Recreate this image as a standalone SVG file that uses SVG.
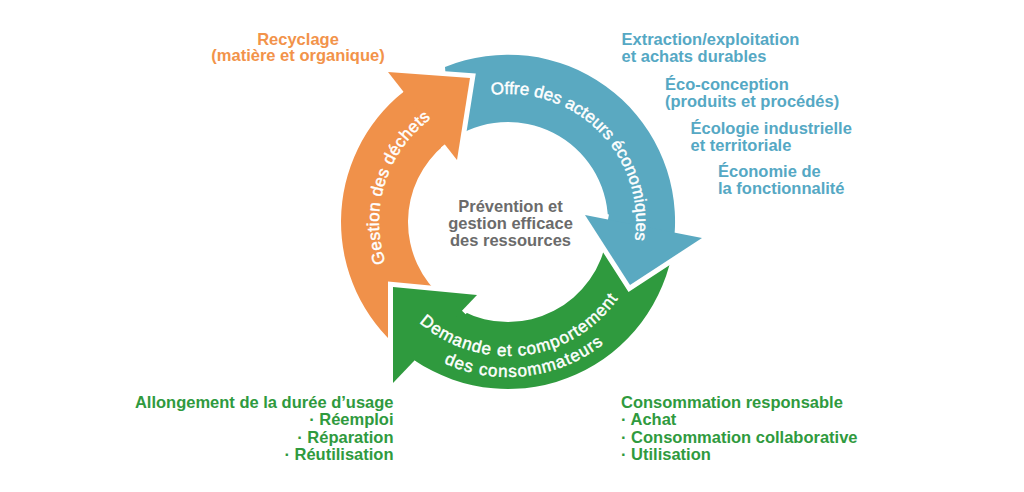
<svg xmlns="http://www.w3.org/2000/svg" xmlns:xlink="http://www.w3.org/1999/xlink" width="1024" height="492" viewBox="0 0 1024 492">
<defs>
<style>
.ringtxt{font-family:"Liberation Sans",Arial,sans-serif;font-size:17px;fill:#ffffff;stroke:#ffffff;stroke-width:0.45px}
.lbl{font-family:"Liberation Sans",Arial,sans-serif;font-size:16.5px;font-weight:bold}
.blue{fill:#55a8c4}
.orange{fill:#f2934a}
.green{fill:#2f9a3e}
.center{font-family:"Liberation Sans",Arial,sans-serif;font-size:16.5px;font-weight:bold;fill:#6b6b6b}
.border{fill:none;stroke:#ffffff;stroke-width:10;stroke-linejoin:miter;stroke-miterlimit:6}
</style>
<path id="tp-offre" d="M 426.3 123.5 A 128 128 0 0 1 605.6 304.9"/>
<path id="tp-gestion" d="M 448.4 336.4 A 129 129 0 0 1 524.8 94.1"/>
<path id="tp-demande1" d="M 388.6 282.8 A 134 134 0 0 0 638.6 252.2"/>
<path id="tp-demande2" d="M 369.9 292.4 A 155 155 0 0 0 659 256.9"/>
</defs>
<rect width="1024" height="492" fill="#ffffff"/>

<g id="connectors">
  <path id="arrow-gestion" fill="#f0914a" d="M 400.7 349.9 A 167 167 0 0 1 403.5 91.7 L 388 72 L 470 78 L 457 160 L 444.8 144.5 A 100 100 0 0 0 443.7 298.6 Z"/>
  <path id="arrow-offre" fill="#5aa9c1" d="M 445 67 A 167 167 0 0 1 674.7 232.6 L 702 238 L 630 285 L 585 215 L 608 219.5 A 100 100 0 0 0 450.6 140.1 Z"/>
  <path id="arrow-demande" fill="#2f9a3e" d="M 673.4 245.2 A 167 167 0 0 1 414.6 360.4 L 393 383 L 393 287 L 477 295 L 462 310.8 A 100 100 0 0 0 607 235.9 Z"/>
  <g id="heads">
    <path class="border" d="M 403.5 91.7 L 388 72 L 470 78 L 457 160 L 444.8 144.5"/>
    <path fill="#f0914a" d="M 388 72 L 470 78 L 457 160 Z"/>
    <path class="border" d="M 674.7 232.6 L 702 238 L 630 285 L 585 215 L 608 219.5"/>
    <path fill="#5aa9c1" d="M 702 238 L 630 285 L 585 215 Z"/>
    <path class="border" d="M 414.6 360.4 L 393 383 L 393 287 L 477 295 L 462 310.8"/>
    <path fill="#2f9a3e" d="M 393 383 L 393 287 L 477 295 Z"/>
  </g>
</g>

<g id="node-gestion">
  <text class="ringtxt" letter-spacing="0.35"><textPath xlink:href="#tp-gestion" href="#tp-gestion" startOffset="50%" text-anchor="middle">Gestion des déchets</textPath></text>
</g>
<g id="node-offre">
  <text class="ringtxt"><textPath xlink:href="#tp-offre" href="#tp-offre" startOffset="50%" text-anchor="middle">Offre des acteurs économiques</textPath></text>
</g>
<g id="node-demande">
  <text class="ringtxt" letter-spacing="0.9"><textPath xlink:href="#tp-demande1" href="#tp-demande1" startOffset="50%" text-anchor="middle">Demande et comportement</textPath></text>
  <text class="ringtxt" letter-spacing="1"><textPath xlink:href="#tp-demande2" href="#tp-demande2" startOffset="50%" text-anchor="middle">des consommateurs</textPath></text>
</g>

<g id="node-center">
  <text class="center" x="510.5" y="211.5" text-anchor="middle">Prévention et</text>
  <text class="center" x="510.5" y="229" text-anchor="middle">gestion efficace</text>
  <text class="center" x="510.5" y="246" text-anchor="middle">des ressources</text>
</g>

<g id="node-recyclage">
  <text class="lbl orange" x="298" y="45" text-anchor="middle">Recyclage</text>
  <text class="lbl orange" x="298" y="61" text-anchor="middle">(matière et organique)</text>
</g>

<g id="node-offre-labels">
  <text class="lbl blue" x="621.5" y="45">Extraction/exploitation</text>
  <text class="lbl blue" x="621.5" y="62">et achats durables</text>
  <text class="lbl blue" x="665" y="90">Éco-conception</text>
  <text class="lbl blue" x="665" y="106.5">(produits et procédés)</text>
  <text class="lbl blue" x="690.5" y="134">Écologie industrielle</text>
  <text class="lbl blue" x="690.5" y="151">et territoriale</text>
  <text class="lbl blue" x="718" y="176.5">Économie de</text>
  <text class="lbl blue" x="718" y="193.5">la fonctionnalité</text>
</g>

<g id="node-allongement">
  <text class="lbl green" x="393.5" y="407.5" text-anchor="end">Allongement de la durée d’usage</text>
  <text class="lbl green" x="393.5" y="425" text-anchor="end">· Réemploi</text>
  <text class="lbl green" x="393.5" y="442.5" text-anchor="end">· Réparation</text>
  <text class="lbl green" x="393.5" y="459.5" text-anchor="end">· Réutilisation</text>
</g>

<g id="node-consommation">
  <text class="lbl green" x="621" y="407.5">Consommation responsable</text>
  <text class="lbl green" x="621" y="425">· Achat</text>
  <text class="lbl green" x="621" y="442.5">· Consommation collaborative</text>
  <text class="lbl green" x="621" y="459.5">· Utilisation</text>
</g>
</svg>
